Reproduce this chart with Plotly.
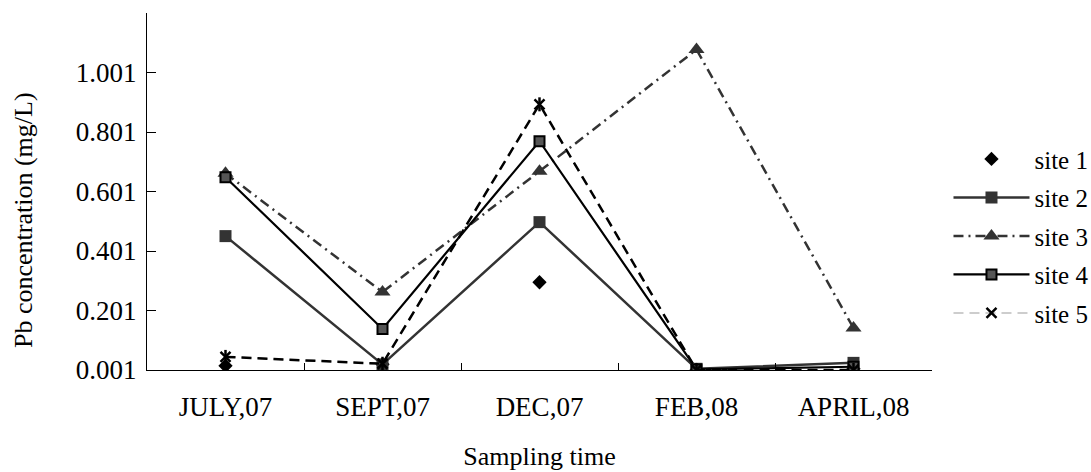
import plotly.graph_objects as go

categories = ["JULY,07", "SEPT,07", "DEC,07", "FEB,08", "APRIL,08"]
site1 = [0.015, 0.020, 0.296, 0.001, 0.005]
site2 = [0.451, 0.020, 0.498, 0.005, 0.025]
site3 = [0.662, 0.263, 0.669, 1.078, 0.142]
site4 = [0.649, 0.139, 0.770, 0.003, 0.012]
site5 = [0.045, 0.022, 0.894, 0.001, 0.001]
ytick_vals = [0.001, 0.201, 0.401, 0.601, 0.801, 1.001]
ytick_text = ["0.001", "0.201", "0.401", "0.601", "0.801", "1.001"]

FONT = "Liberation Serif"
DARK = "#333333"

fig = go.Figure()

fig.add_trace(go.Scatter(
    x=categories, y=site1, name="site 1", mode="markers",
    marker=dict(symbol="diamond", size=11, color="black"),
    legendgroup="g1"))
fig.add_trace(go.Scatter(
    x=categories, y=site2, name="site 2", mode="lines+markers",
    line=dict(color=DARK, width=2.5),
    marker=dict(symbol="square", size=12, color=DARK),
    legendgroup="g2"))
fig.add_trace(go.Scatter(
    x=categories, y=site3, name="site 3", mode="lines+markers",
    line=dict(color=DARK, width=2.5, dash="10px,5px,2px,5px"),
    marker=dict(symbol="triangle-up", size=14, color=DARK),
    legendgroup="g3"))
fig.add_trace(go.Scatter(
    x=categories, y=site4, name="site 4", mode="lines+markers",
    line=dict(color="black", width=2.2),
    marker=dict(symbol="square", size=10, color="#555555",
                line=dict(color="black", width=2)),
    legendgroup="g4"))
# site 5: light grey series line (legend) with black dashed overlay in the plot
fig.add_trace(go.Scatter(
    x=categories, y=site5, name="site 5", mode="lines+markers",
    line=dict(color="#bdbdbd", width=1.5, dash="10px,6px"),
    marker=dict(symbol="x-thin-open", size=10, color="black",
                line=dict(color="black", width=2.5)),
    legendgroup="g5"))
fig.add_trace(go.Scatter(
    x=categories, y=site5, name="site 5", mode="lines+markers",
    line=dict(color="black", width=2.5, dash="10px,6px"),
    marker=dict(symbol="line-ns-open", size=10, color="black",
                line=dict(color="black", width=2.5)),
    showlegend=False, legendgroup="g5"))

fig.update_layout(
    width=1091, height=472,
    margin=dict(l=147, r=159, t=13, b=102, autoexpand=False),
    paper_bgcolor="white", plot_bgcolor="white",
    font=dict(family=FONT, size=25, color="black"),
    showlegend=True,
    legend=dict(
        x=1.021, xanchor="left", y=0.655, yanchor="top",
        font=dict(family=FONT, size=25, color="black"),
        itemwidth=76, tracegroupgap=3, traceorder="grouped",
        bgcolor="rgba(0,0,0,0)",
    ),
    annotations=[dict(
        text="Pb concentration (mg/L)", textangle=-90,
        xref="paper", yref="paper", x=-0.158, y=0.42,
        xanchor="center", yanchor="middle", showarrow=False,
        font=dict(family=FONT, size=26, color="black"),
    )],
)
fig.update_xaxes(
    type="category", categoryorder="array", categoryarray=categories,
    showline=True, linecolor="black", linewidth=1.2,
    showgrid=False, zeroline=False, automargin=False,
    ticks="inside", tickson="boundaries", ticklen=7, tickcolor="black",
    tickfont=dict(family=FONT, size=27, color="black"),
    ticklabelstandoff=12,
    title=dict(text="Sampling time", font=dict(family=FONT, size=26), standoff=26),
    range=[-0.5, 4.5],
)
fig.update_yaxes(
    range=[0.001, 1.201],
    tickvals=ytick_vals, ticktext=ytick_text,
    showline=True, linecolor="black", linewidth=1.2,
    showgrid=False, zeroline=False, automargin=False,
    ticks="inside", ticklen=9, tickcolor="black",
    tickfont=dict(family=FONT, size=27, color="black"),
    ticklabelstandoff=4,
)

fig.write_html("out.html", config={"displayModeBar": False})

# remove the browser's default body margin so the figure sits at the page origin
with open("out.html", "r", encoding="utf-8") as f:
    html = f.read()
html = html.replace("<head>", "<head><style>html,body{margin:0;padding:0;}</style>", 1)
with open("out.html", "w", encoding="utf-8") as f:
    f.write(html)
